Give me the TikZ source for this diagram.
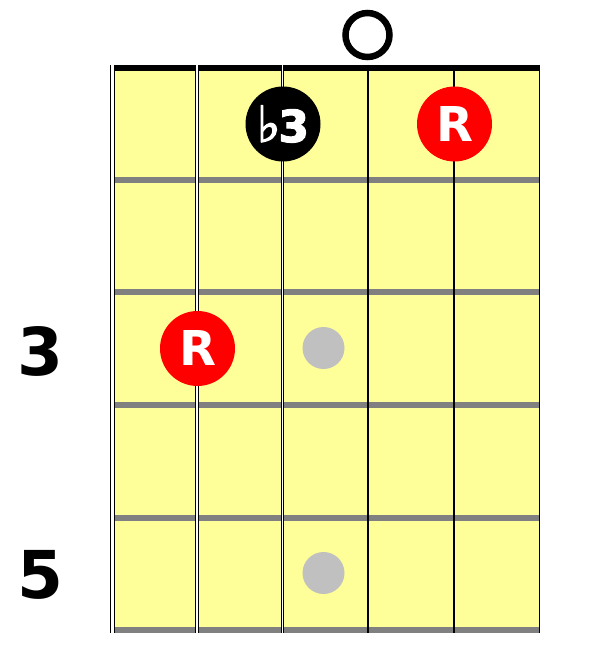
\documentclass[tikz,border=0pt]{standalone}
\usepackage{fontspec}
\setmainfont{DejaVu Sans}
\newfontfamily\symfont{DejaVu Sans}[FakeBold=2.5]
\definecolor{board}{HTML}{FFFF99}
\definecolor{fretgray}{HTML}{808080}
\definecolor{markgray}{HTML}{C0C0C0}
\definecolor{notered}{HTML}{FF0000}
\begin{document}
\begin{tikzpicture}[x=1pt,y=-1pt,
  fretwire/.style={draw=fretgray,line width=6pt},
  woundouter/.style={draw=black,line width=#1},
  woundinner/.style={draw=white,line width=#1},
  plainstring/.style={draw=black,line width=1.2pt},
  inlaydot/.style={circle,fill=markgray,minimum size=42pt,inner sep=0pt},
  notedot/.style={circle,fill=#1,minimum size=75pt,inner sep=0pt,text=white,font=\fontsize{48}{48}\selectfont\bfseries},
  openring/.style={circle,draw=black,line width=6.5pt,minimum size=44pt,inner sep=0pt},
  fretnum/.style={inner sep=0pt,font=\fontsize{66}{66}\selectfont\bfseries}
]
\useasboundingbox[fill=white] (0,0) rectangle (590,666);
% fretboard
\fill[board] (112,65) rectangle (540,633);
% frets
\foreach \fy [count=\i] in {179.7,292.2,405,517.5,630}{
  \coordinate (fl\i) at (113,\fy);
  \coordinate (fr\i) at (540,\fy);
  \draw[fretwire] (fl\i) -- (fr\i);
}
% nut
\fill[black] (110.5,65) rectangle (540,71);
% strings
\coordinate (s1t) at (112.6,65); \coordinate (s1b) at (112.6,633);
\coordinate (s2t) at (197,65);   \coordinate (s2b) at (197,633);
\coordinate (s3t) at (282.5,65); \coordinate (s3b) at (282.5,633);
\coordinate (s4t) at (368,65);   \coordinate (s4b) at (368,633);
\coordinate (s5t) at (454,65);   \coordinate (s5b) at (454,633);
\coordinate (s6t) at (539.4,65); \coordinate (s6b) at (539.4,633);
\draw[woundouter=4.6pt] (s1t) -- (s1b);
\draw[woundinner=3.1pt] (s1t) -- (s1b);
\draw[woundouter=3.8pt] (s2t) -- (s2b);
\draw[woundinner=2.3pt] (s2t) -- (s2b);
\draw[woundouter=2.6pt] (s3t) -- (s3b);
\draw[woundinner=1.1pt] (s3t) -- (s3b);
\draw[plainstring] (s4t) -- (s4b);
\draw[plainstring] (s5t) -- (s5b);
\draw[plainstring] (s6t) -- (s6b);
% inlays
\node[inlaydot] (m3) at (323.5,348) {};
\node[inlaydot] (m5) at (323.5,573) {};
% open string
\node[openring] (open4) at (367.5,35) {};
% notes
\node[notedot=black] (b3) at (283,124) {\fontsize{50}{50}\selectfont\symfont ♭\kern-2pt\fontsize{44}{44}\selectfont\bfseries 3};
\node[notedot=notered] (r5) at (454.5,124) {R};
\node[notedot=notered] (r1) at (197.5,348.5) {R};
% fret numbers
\node[fretnum] (f3) at (40,351) {3};
\node[fretnum] (f5) at (40,575) {5};
\end{tikzpicture}
\end{document}
